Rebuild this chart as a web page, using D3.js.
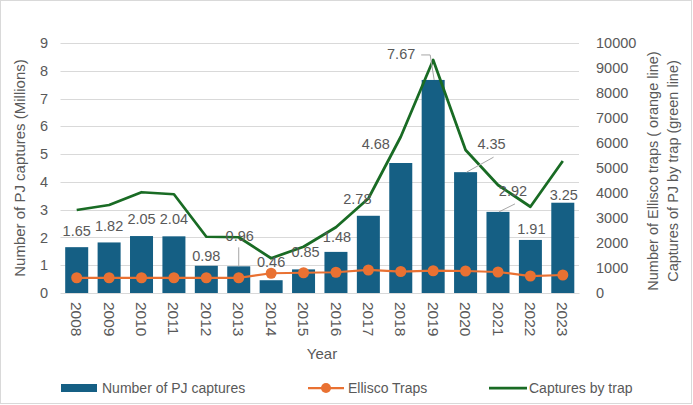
<!DOCTYPE html>
<html>
<head>
<meta charset="utf-8">
<script src="https://cdn.jsdelivr.net/npm/d3@7"></script>
<style>
  body { margin: 0; background: #fff; }
  text { font-family: "Liberation Sans", Arial, sans-serif; fill: #595959; }
</style>
</head>
<body>
<svg id="svg" width="693" height="405"></svg>
<script>
// data
const years = ['2008', '2009', '2010', '2011', '2012', '2013', '2014', '2015',
  '2016', '2017', '2018', '2019', '2020', '2021', '2022', '2023']
const captures = [1.65, 1.82, 2.05, 2.04, 0.98, 0.96, 0.46, 0.85,
  1.48, 2.78, 4.68, 7.67, 4.35, 2.92, 1.91, 3.25]
const traps = [610, 610, 610, 610, 610, 610, 790, 810,
  830, 920, 860, 890, 880, 840, 680, 720]
const capturesByTrap = [3320, 3520, 4030, 3950, 2250, 2230, 1390, 1850,
  2630, 3780, 6250, 9320, 5720, 4320, 3450, 5280]
const leftTicks = [0, 1, 2, 3, 4, 5, 6, 7, 8, 9]
const rightTicks = [0, 1000, 2000, 3000, 4000, 5000, 6000, 7000, 8000, 9000, 10000]

// label nudges (dx, baseline offset from bar top, leader line)
const labelPos = {
  '2008': [0, -11], '2009': [0, -11], '2010': [0, -12], '2011': [0, -12],
  '2012': [0, -5], '2013': [1, -25, true], '2014': [0, -13], '2015': [2, -12],
  '2016': [1, -10], '2017': [-11, -12], '2018': [-25, -14], '2019': [-32, -21, true],
  '2020': [26, -23, true], '2021': [15, -16, true], '2022': [1, -6], '2023': [1, -3]
}

const barColor = '#155f84'
const orange = '#e97132'
const green = '#196b24'

let svg = d3.select('#svg')

svg.append('rect')
  .attr('x', 0.5).attr('y', 0.5)
  .attr('width', 691).attr('height', 403)
  .attr('fill', '#fff').attr('stroke', '#d9d9d9')

let x = d3.scaleBand()
  .domain(years)
  .range([60.5, 579])
  .paddingInner(0.29)
  .paddingOuter(0.145)

let yLeft = d3.scaleLinear().domain([0, 9]).range([293, 43])
let yRight = d3.scaleLinear().domain([0, 10000]).range([293, 43])

// gridlines
svg.append('g')
  .selectAll('line')
  .data(leftTicks)
  .enter()
  .append('line')
  .attr('x1', 60.5).attr('x2', 579)
  .attr('y1', d => Math.round(yLeft(d)) + 0.5)
  .attr('y2', d => Math.round(yLeft(d)) + 0.5)
  .attr('stroke', '#d9d9d9')

// left axis
let leftAxis = svg.append('g')
  .attr('transform', 'translate(60,0)')
  .call(d3.axisLeft(yLeft).tickValues(leftTicks).tickSize(0).tickPadding(12))
leftAxis.select('.domain').remove()
leftAxis.selectAll('text').style('font-size', '14.5px').attr('fill', '#595959')

// right axis
let rightAxis = svg.append('g')
  .attr('transform', 'translate(579,0)')
  .call(d3.axisRight(yRight).tickValues(rightTicks).tickFormat(d3.format('d'))
    .tickSize(0).tickPadding(17))
rightAxis.select('.domain').remove()
rightAxis.selectAll('text').style('font-size', '14.5px').attr('fill', '#595959')

// bars
svg.selectAll('.bar')
  .data(years)
  .enter()
  .append('rect')
  .attr('class', 'bar')
  .attr('x', d => x(d))
  .attr('width', x.bandwidth())
  .attr('y', (d, i) => yLeft(captures[i]))
  .attr('height', (d, i) => yLeft(0) - yLeft(captures[i]))
  .attr('fill', barColor)

// x axis labels
let xAxis = svg.append('g')
  .attr('transform', 'translate(0,293)')
  .call(d3.axisBottom(x).tickSize(0).tickPadding(0))
xAxis.select('.domain').attr('stroke', '#d9d9d9')
xAxis.selectAll('text')
  .style('font-size', '15.5px')
  .attr('fill', '#595959')
  .attr('text-anchor', 'start')
  .attr('dy', '0.35em')
  .attr('transform', 'translate(0,9) rotate(90)')
  .attr('y', 0)

// lines
let lineTrap = d3.line()
  .x((d, i) => x(years[i]) + x.bandwidth() / 2)
  .y(d => yRight(d))

svg.append('path')
  .datum(capturesByTrap)
  .attr('d', lineTrap)
  .attr('fill', 'none')
  .attr('stroke', green)
  .attr('stroke-width', 2.75)
  .attr('stroke-linejoin', 'round')

svg.append('path')
  .datum(traps)
  .attr('d', lineTrap)
  .attr('fill', 'none')
  .attr('stroke', orange)
  .attr('stroke-width', 2.25)

svg.selectAll('.dot')
  .data(traps)
  .enter()
  .append('circle')
  .attr('class', 'dot')
  .attr('cx', (d, i) => x(years[i]) + x.bandwidth() / 2)
  .attr('cy', d => yRight(d))
  .attr('r', 5.5)
  .attr('fill', orange)

// data labels
years.forEach((yr, i) => {
  let p = labelPos[yr]
  let cx = x(yr) + x.bandwidth() / 2
  let top = yLeft(captures[i])
  let lx = cx + p[0]
  let ly = top + p[1]
  if (p[2]) {
    let pts
    if (yr === '2013') pts = [[cx, ly + 6], [cx, top]]
    else if (yr === '2019') pts = [[lx + 20, ly - 4], [cx - 3, ly - 4], [cx + 1, top]]
    else pts = [[lx + 2, ly + 8], [cx + 1, top]]
    svg.append('path')
      .attr('d', d3.line()(pts))
      .attr('fill', 'none')
      .attr('stroke', '#a6a6a6')
      .attr('stroke-width', 1)
  }
  svg.append('text')
    .attr('x', lx)
    .attr('y', ly)
    .attr('text-anchor', 'middle')
    .style('font-size', '14.5px')
    .text(captures[i].toFixed(2))
})

// axis titles
svg.append('text')
  .attr('transform', 'translate(25,168) rotate(-90)')
  .attr('text-anchor', 'middle')
  .style('font-size', '15px')
  .text('Number of  PJ captures (Millions)')

svg.append('text')
  .attr('transform', 'translate(658,171) rotate(-90)')
  .attr('text-anchor', 'middle')
  .style('font-size', '14.5px')
  .text('Number of Ellisco traps ( orange line)')

svg.append('text')
  .attr('transform', 'translate(678,171) rotate(-90)')
  .attr('text-anchor', 'middle')
  .style('font-size', '14.5px')
  .text('Captures of PJ  by trap (green line)')

svg.append('text')
  .attr('x', 322)
  .attr('y', 359)
  .attr('text-anchor', 'middle')
  .style('font-size', '15px')
  .text('Year')

// legend
let legend = svg.append('g')
legend.append('rect')
  .attr('x', 61).attr('y', 384).attr('width', 36).attr('height', 8)
  .attr('fill', barColor)
legend.append('text').attr('x', 102).attr('y', 393).style('font-size', '14px')
  .text('Number of PJ captures')

legend.append('line')
  .attr('x1', 308).attr('x2', 344).attr('y1', 388).attr('y2', 388)
  .attr('stroke', orange).attr('stroke-width', 2.25)
legend.append('circle').attr('cx', 326).attr('cy', 388).attr('r', 5).attr('fill', orange)
legend.append('text').attr('x', 348).attr('y', 393).style('font-size', '14px')
  .text('Ellisco Traps')

legend.append('line')
  .attr('x1', 489).attr('x2', 527).attr('y1', 388).attr('y2', 388)
  .attr('stroke', green).attr('stroke-width', 2.75)
legend.append('text').attr('x', 529).attr('y', 393).style('font-size', '14px')
  .text('Captures by trap')
</script>
</body>
</html>
